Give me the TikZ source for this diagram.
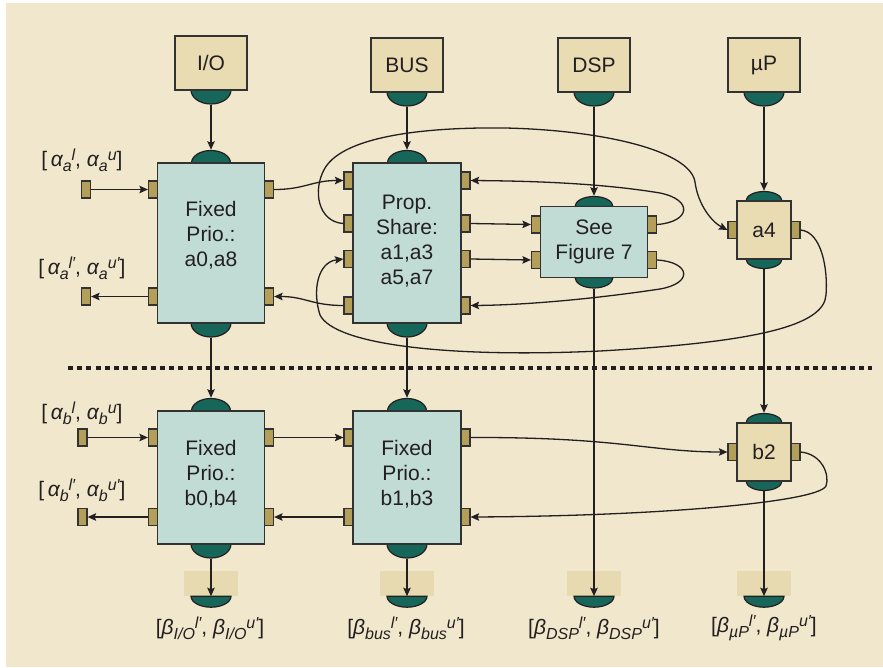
\documentclass[tikz,border=0pt]{standalone}
\usepackage{fontspec}
\setmainfont{Liberation Sans}
\usetikzlibrary{arrows.meta,calc}

\definecolor{bgc}{RGB}{241,231,204}
\definecolor{boxc}{RGB}{193,219,213}
\definecolor{resc}{RGB}{233,219,178}
\definecolor{portc}{RGB}{179,159,90}
\definecolor{semic}{RGB}{23,102,90}
\definecolor{slotc}{RGB}{232,218,176}
\definecolor{inkc}{RGB}{35,31,32}
\definecolor{edgec}{RGB}{50,50,50}

% symbol with a lowered subscript followed by a raised superscript
\newcommand\subfont{\fontsize{16}{16}\selectfont\itshape}
\newcommand\sym[3]{{\itshape #1}\raisebox{-5pt}{\subfont #2}\raisebox{6pt}{\subfont #3}}

\tikzset{
  proc/.style={draw=edgec, fill=boxc, line width=1.5pt, inner sep=0pt},
  res/.style={draw=edgec, fill=resc, line width=1.5pt, inner sep=0pt},
  port/.style={draw=edgec, fill=portc, line width=1.2pt, minimum width=9pt, minimum height=17pt, inner sep=0pt},
  slot/.style={fill=slotc, minimum width=54pt, minimum height=25pt, inner sep=0pt},
  semi/.style={draw=inkc, fill=semic, line width=1.2pt},
  arr/.style={draw=inkc, line width=1.3pt, -{Stealth[length=8.5pt,width=7.5pt,inset=1.5pt]}},
  lbl/.style={font=\fontsize{21}{25}\selectfont, text=inkc, align=center, inner sep=0pt},
  mlab/.style={font=\fontsize{21}{24}\selectfont, text=inkc, inner sep=0pt},
  pics/capup/.style args={#1/#2}{code={
    \path[semi] ({-#1},0) .. controls ({-#1},{-0.55*#2}) and ({-0.55*#1},{-#2}) .. (0,{-#2})
      .. controls ({0.55*#1},{-#2}) and ({#1},{-0.55*#2}) .. ({#1},0) -- cycle;}},
  pics/capdown/.style args={#1/#2}{code={
    \path[semi] ({-#1},0) .. controls ({-#1},{0.55*#2}) and ({-0.55*#1},{#2}) .. (0,{#2})
      .. controls ({0.55*#1},{#2}) and ({#1},{0.55*#2}) .. ({#1},0) -- cycle;}},
}

\begin{document}
\begin{tikzpicture}[x=1pt,y=-1pt]
\useasboundingbox (0,0) rectangle (883,667);
\fill[white] (0,0) rectangle (883,667);
\fill[bgc] (6,3) rectangle (883,667);

% dotted separator
\coordinate (dl) at (68,368);
\coordinate (dr) at (872,368);
\draw[inkc, line width=4.5pt, dash pattern=on 5pt off 4.2pt] (dl) -- (dr);

% resources on top
\pic at (211,90) {capdown=20/14};
\pic at (407,92) {capdown=20/14};
\pic at (594,92) {capdown=20/14};
\pic at (764,92) {capdown=20/14};
\node[res, lbl, minimum width=72pt, minimum height=54pt] (io)  at (211,63) {I/O};
\node[res, lbl, minimum width=72pt, minimum height=54pt] (bus) at (407,65) {BUS};
\node[res, lbl, minimum width=72pt, minimum height=54pt] (dsp) at (594,65) {DSP};
\node[res, lbl, minimum width=72pt, minimum height=54pt] (up)  at (764,65) {µP};
\coordinate (io-o)  at ($(io.south)+(0,14)$);
\coordinate (bus-o) at ($(bus.south)+(0,14)$);
\coordinate (dsp-o) at ($(dsp.south)+(0,14)$);
\coordinate (up-o)  at ($(up.south)+(0,14)$);

% caps of the scheduler blocks
\pic at (211,163) {capup=19.5/12.5};
\pic at (211,323) {capdown=20/14};
\pic at (407,163) {capup=19.5/12.5};
\pic at (407,323) {capdown=20/14};
\pic at (594,206.5) {capup=19/10};
\pic at (594,277.5) {capdown=19/10.5};
\pic at (764,201) {capup=18/9.5};
\pic at (764,259) {capdown=18/9.5};
\pic at (211,411) {capup=19.5/12.5};
\pic at (211,544) {capdown=20/14};
\pic at (407,411) {capup=19.5/12.5};
\pic at (407,544) {capdown=20/14};
\pic at (764,423) {capup=18/9.5};
\pic at (764,481) {capdown=18/9.5};

% scheduler blocks
\node[proc, minimum width=107pt, minimum height=160pt] (A1) at (211,243) {};
\node[lbl] (A1t) at (211,235) {Fixed\\Prio.:\\a0,a8};
\node[proc, minimum width=108pt, minimum height=160pt] (A2) at (407,243) {};
\node[lbl] (A2t) at (407,241) {Prop.\\Share:\\a1,a3\\a5,a7};
\node[proc, lbl, minimum width=107pt, minimum height=71pt] (A3) at (594,242) {See\\Figure 7};
\node[res, lbl, minimum width=54pt, minimum height=58pt] (a4) at (764,230) {a4};
\node[proc, minimum width=107pt, minimum height=133pt] (B1) at (211,477.5) {};
\node[lbl] (B1t) at (211,474) {Fixed\\Prio.:\\b0,b4};
\node[proc, minimum width=108pt, minimum height=133pt] (B2) at (407,477.5) {};
\node[lbl] (B2t) at (407,474) {Fixed\\Prio.:\\b1,b3};
\node[res, lbl, minimum width=54pt, minimum height=58pt] (b2) at (764,452) {b2};

\coordinate (A1-i) at ($(A1.north)+(0,-12.5)$);
\coordinate (A1-o) at ($(A1.south)+(0,14)$);
\coordinate (A2-i) at ($(A2.north)+(0,-12.5)$);
\coordinate (A2-o) at ($(A2.south)+(0,14)$);
\coordinate (A3-i) at ($(A3.north)+(0,-10)$);
\coordinate (A3-o) at ($(A3.south)+(0,10.5)$);
\coordinate (a4-i) at ($(a4.north)+(0,-9.5)$);
\coordinate (a4-o) at ($(a4.south)+(0,9.5)$);
\coordinate (B1-i) at ($(B1.north)+(0,-12.5)$);
\coordinate (B1-o) at ($(B1.south)+(0,14)$);
\coordinate (B2-i) at ($(B2.north)+(0,-12.5)$);
\coordinate (B2-o) at ($(B2.south)+(0,14)$);
\coordinate (b2-i) at ($(b2.north)+(0,-9.5)$);
\coordinate (b2-o) at ($(b2.south)+(0,9.5)$);

% ports
\node[port] (A1l1) at (153,189.5) {};
\node[port] (A1l2) at (153,296.5) {};
\node[port] (A1r1) at (269,189.5) {};
\node[port] (A1r2) at (269,296.5) {};
\node[port] (A2l1) at (348.5,180.5) {};
\node[port] (A2l2) at (348.5,223.5) {};
\node[port] (A2l3) at (348.5,259) {};
\node[port] (A2l4) at (348.5,305.5) {};
\node[port] (A2r1) at (465.5,180.5) {};
\node[port] (A2r2) at (465.5,223.5) {};
\node[port] (A2r3) at (465.5,259) {};
\node[port] (A2r4) at (465.5,305.5) {};
\node[port] (A3l1) at (536,224.5) {};
\node[port] (A3l2) at (536,260) {};
\node[port] (A3r1) at (652,224.5) {};
\node[port] (A3r2) at (652,260) {};
\node[port] (a4l) at (732.5,230) {};
\node[port] (a4r) at (795.5,230) {};
\node[port] (B1l1) at (153,437.5) {};
\node[port] (B1l2) at (153,517) {};
\node[port] (B1r1) at (269,437.5) {};
\node[port] (B1r2) at (269,517) {};
\node[port] (B2l1) at (348.5,437.5) {};
\node[port] (B2l2) at (348.5,517) {};
\node[port] (B2r1) at (465.5,437.5) {};
\node[port] (B2r2) at (465.5,517) {};
\node[port] (b2l) at (732.5,452) {};
\node[port] (b2r) at (795.5,452) {};
\node[port] (xa1) at (86,189.5) {};
\node[port] (xa2) at (86,296.5) {};
\node[port] (xb1) at (82.5,437.5) {};
\node[port] (xb2) at (82.5,517) {};

% output slots
\node[slot] (s1) at (211,583.5) {};
\node[slot] (s2) at (407,583.5) {};
\node[slot] (s3) at (594,583.5) {};
\node[slot] (s4) at (764,583.5) {};
\pic at (s1.south) {capdown=20/11};
\pic at (s2.south) {capdown=20/11};
\pic at (s3.south) {capdown=20/11};
\pic at (s4.south) {capdown=20/11};

% vertical flows
\draw[arr] (io-o) -- (A1-i);
\draw[arr] (bus-o) -- (A2-i);
\draw[arr] (dsp-o) -- (A3-i);
\draw[arr] (up-o) -- (a4-i);
\draw[arr] (A1-o) -- (B1-i);
\draw[arr] (A2-o) -- (B2-i);
\draw[arr] (a4-o) -- (b2-i);
\draw[arr] (A3-o) -- (s3.south);
\draw[arr] (B1-o) -- (s1.south);
\draw[arr] (B2-o) -- (s2.south);
\draw[arr] (b2-o) -- (s4.south);

% event streams, upper part
\draw[arr] (xa1.east) -- (A1l1.west);
\draw[arr] (A1l2.west) -- (xa2.east);
\draw[arr] (A1r1.east) .. controls (305,189.5) and (312,180.5) .. (A2l1.west);
\draw[arr] (A2l4.west) .. controls (312,305.5) and (305,296.5) .. (A1r2.east);
\draw[arr] (A2r2.east) -- (A3l1.west);
\draw[arr] (A2r3.east) -- (A3l2.west);
\draw[arr] (A3r1.east) .. controls (690,222) and (694,200) .. (660,193)
  .. controls (600,183) and (530,181) .. (A2r1.east);
\draw[arr] (A3r2.east) .. controls (690,262) and (694,283) .. (660,289)
  .. controls (600,298) and (530,305) .. (A2r4.east);
\draw[arr] (A2l2.west) .. controls (318,222) and (312,190) .. (325,168)
  .. controls (345,135) and (430,127) .. (505,128)
  .. controls (600,130) and (690,150) .. (695,182)
  .. controls (698,205) and (712,222) .. (a4l.west);
\draw[arr] (a4r.east) .. controls (822,232) and (828,270) .. (826,295)
  .. controls (824,325) and (760,342) .. (600,351)
  .. controls (450,358) and (335,345) .. (320,315)
  .. controls (312,290) and (318,262) .. (A2l3.west);

% event streams, lower part
\draw[arr] (xb1.east) -- (B1l1.west);
\draw[arr] (B1l2.west) -- (xb2.east);
\draw[arr] (B1r1.east) -- (B2l1.west);
\draw[arr] (B2l2.west) -- (B1r2.east);
\draw[arr] (B2r1.east) .. controls (620,437) and (650,452) .. (b2l.west);
\draw[arr] (b2r.east) .. controls (822,454) and (830,475) .. (826,486)
  .. controls (818,502) and (660,516) .. (B2r2.east);

% stream labels
\node[mlab] (la1) at (82,160) {[\,\sym{α}{a}{l}, \sym{α}{a}{u}]};
\node[mlab] (la2) at (82,268) {[\,\sym{α}{a}{l′}, \sym{α}{a}{u′}]};
\node[mlab] (lb1) at (82,413) {[\,\sym{α}{b}{l}, \sym{α}{b}{u}]};
\node[mlab] (lb2) at (82,490) {[\,\sym{α}{b}{l′}, \sym{α}{b}{u′}]};
\node[mlab] (r1) at (210,628) {[\sym{β}{I/O}{l′}, \sym{β}{I/O}{u′}]};
\node[mlab] (r2) at (406,628) {[\sym{β}{bus}{l′}, \sym{β}{bus}{u′}]};
\node[mlab] (r3) at (594,628) {[\sym{β}{DSP}{l′}, \sym{β}{DSP}{u′}]};
\node[mlab] (r4) at (764,628) {[\sym{β}{µP}{l′}, \sym{β}{µP}{u′}]};
\end{tikzpicture}
\end{document}
